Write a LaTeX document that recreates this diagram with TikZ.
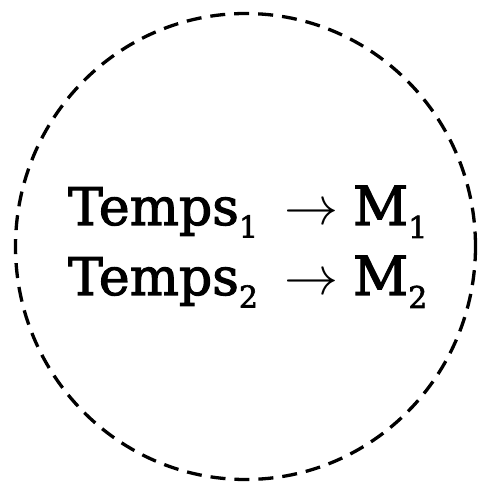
\RequirePackage{fix-cm}
\documentclass[tikz,border=0pt]{standalone}
\usepackage{fontspec}
\usetikzlibrary{shapes.geometric}
\setmainfont{DejaVu Serif}[FakeBold=2]
\newcommand{\subidx}[1]{\raisebox{-0.24em}{\fontsize{30}{30}\selectfont #1}}
\newcommand{\arr}{\hspace{27pt}\fontsize{54}{54}\selectfont$\rightarrow$\hspace{14pt}}
\tikzset{
  ring/.style={draw=black, line width=3.3pt, dash pattern=on 15pt off 9pt},
  lbl/.style={anchor=base west, inner sep=0pt, font=\fontsize{52}{52}\selectfont}
}
\begin{document}
\begin{tikzpicture}[x=1pt,y=1pt]
\useasboundingbox (0,0) rectangle (478,482);
\node[ring, ellipse, minimum width=460pt, minimum height=466pt, inner sep=0pt] (c) at (245.5,235.5) {};
\node[lbl] (l1) at (68,257) {Temps\subidx{1}\arr M\subidx{1}};
\node[lbl] (l2) at (68,187) {Temps\subidx{2}\arr M\subidx{2}};
\end{tikzpicture}
\end{document}
